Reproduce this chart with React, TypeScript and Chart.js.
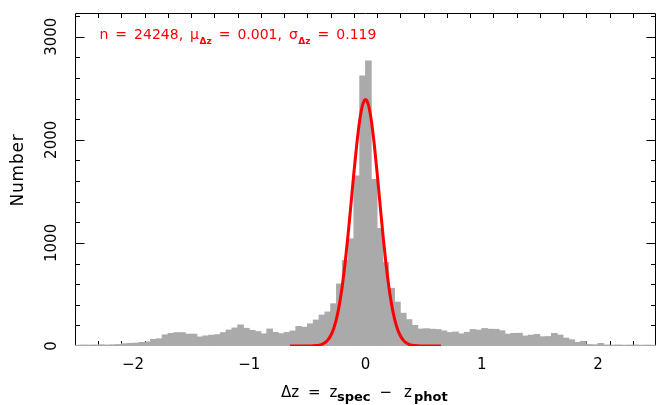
import React, { useEffect, useRef } from 'react';
import { Chart, registerables } from 'chart.js';

Chart.register(...registerables);

// ---------- data ----------
const binStart = -2.5;
const binWidth = 0.05;
// counts per 0.05-wide bin of Δz, from -2.5 to +2.5
const binCounts = [
  8, 10, 9, 10, 12, 10, 12, 14, 22, 25,
  28, 35, 40, 65, 70, 108, 122, 130, 130, 115,
  115, 88, 98, 105, 110, 130, 155, 175, 205, 172,
  152, 140, 118, 165, 132, 120, 132, 146, 190, 182,
  215, 252, 300, 330, 410, 602, 830, 1040, 1650, 2620,
  2765, 1615, 1140, 810, 560, 426, 318, 256, 200, 165,
  168, 163, 160, 147, 131, 136, 118, 133, 160, 154,
  170, 163, 162, 148, 115, 122, 124, 97, 106, 112,
  90, 92, 122, 106, 77, 61, 35, 45, 14, 12,
  25, 10, 9, 10, 8, 9, 10, 8, 9, 8,
];

// fitted gaussian curve (red)
const fitX = [
  -0.65, -0.625, -0.6, -0.575, -0.55, -0.525, -0.5, -0.475, -0.45, -0.425,
  -0.4, -0.375, -0.35, -0.325, -0.3, -0.275, -0.25, -0.225, -0.2, -0.175,
  -0.15, -0.125, -0.1, -0.075, -0.05, -0.025, 0,
  0.025, 0.05, 0.075, 0.1, 0.125, 0.15, 0.175, 0.2, 0.225, 0.25,
  0.275, 0.3, 0.325, 0.35, 0.375, 0.4, 0.425, 0.45, 0.475, 0.5,
  0.525, 0.55, 0.575, 0.6, 0.625, 0.65,
];
const fitY = [
  0, 0, 0, 0, 0, 0.1, 0.3, 0.8, 1.9, 4.1,
  8.4, 16.7, 31.6, 57.4, 99.6, 165.5, 263, 400, 582, 810,
  1080, 1377, 1679, 1959, 2188, 2338, 2390,
  2338, 2188, 1959, 1679, 1377, 1080, 810, 582, 400, 263,
  165.5, 99.6, 57.4, 31.6, 16.7, 8.4, 4.1, 1.9, 0.8, 0.3,
  0.1, 0, 0, 0, 0, 0,
];

const xMin = -2.5;
const xMax = 2.5;
const yMin = 0;
const yMax = 3230;
const xTickValues = [-2, -1, 0, 1, 2];
const yTickValues = [0, 1000, 2000, 3000];
const xMinorStep = 0.2;
const yMinorStep = 200;

const statN = '24248';
const statMu = '0.001';
const statSigma = '0.119';
const yTitle = 'Number';

const FONT = "'DejaVu Sans', sans-serif";

const fmtMinus = (v: number) => (v < 0 ? '\u2212' + Math.abs(v) : String(v));

const framePlugin = {
  id: 'framePlugin',
  beforeDatasetsDraw(chart: any) {
    const { ctx, chartArea: a, scales } = chart;
    const xs = scales.x;
    const ys = scales.y;
    ctx.save();
    ctx.strokeStyle = '#000';
    ctx.lineWidth = 1;
    const L = Math.round(a.left) + 0.5;
    const R = Math.round(a.right) - 0.5;
    const T = Math.round(a.top) + 0.5;
    const B = Math.round(a.bottom) - 0.5;
    ctx.beginPath();
    ctx.rect(L, T, R - L, B - T);
    ctx.stroke();
    ctx.beginPath();
    const nx = Math.round((xMax - xMin) / xMinorStep);
    for (let k = 1; k < nx; k++) {
      const v = xMin + k * xMinorStep;
      const major = xTickValues.some((t) => Math.abs(t - v) < 1e-6);
      const len = major ? 9 : 4.5;
      const px = Math.round(xs.getPixelForValue(v)) + 0.5;
      ctx.moveTo(px, B);
      ctx.lineTo(px, B - len);
      ctx.moveTo(px, T);
      ctx.lineTo(px, T + len);
    }
    const ny = Math.floor((yMax - yMin) / yMinorStep);
    for (let k = 1; k <= ny; k++) {
      const v = yMin + k * yMinorStep;
      const major = yTickValues.some((t) => Math.abs(t - v) < 1e-6);
      const len = major ? 9 : 4.5;
      const py = Math.round(ys.getPixelForValue(v)) + 0.5;
      ctx.moveTo(L, py);
      ctx.lineTo(L + len, py);
      ctx.moveTo(R, py);
      ctx.lineTo(R - len, py);
    }
    ctx.stroke();
    ctx.restore();
  },
  afterDraw(chart: any) {
    const { ctx } = chart;
    ctx.save();
    ctx.textAlign = 'left';
    ctx.textBaseline = 'alphabetic';

    // statistics annotation, laid out left to right with even gaps
    const red = '#ff0000';
    const main = `14px ${FONT}`;
    const sub = `bold 9px ${FONT}`;
    const gap = 7;
    const parts: { t: string; font: string; dy: number; gapAfter: number }[] = [
      { t: 'n', font: main, dy: 0, gapAfter: gap },
      { t: '=', font: main, dy: 0, gapAfter: gap },
      { t: statN + ',', font: main, dy: 0, gapAfter: gap },
      { t: '\u03bc', font: main, dy: 0, gapAfter: 0.5 },
      { t: '\u0394z', font: sub, dy: 5.5, gapAfter: gap },
      { t: '=', font: main, dy: 0, gapAfter: gap },
      { t: statMu + ',', font: main, dy: 0, gapAfter: gap },
      { t: '\u03c3', font: main, dy: 0, gapAfter: 0.5 },
      { t: '\u0394z', font: sub, dy: 5.5, gapAfter: gap },
      { t: '=', font: main, dy: 0, gapAfter: gap },
      { t: statSigma, font: main, dy: 0, gapAfter: 0 },
    ];
    let cx = 99.5;
    ctx.fillStyle = red;
    for (const p of parts) {
      ctx.font = p.font;
      ctx.fillText(p.t, cx, 38.5 + p.dy);
      cx += ctx.measureText(p.t).width + p.gapAfter;
    }

    // x-axis title: Δz = z_spec − z_phot
    const draw = (t: string, x: number, y: number, font: string) => {
      ctx.font = font;
      ctx.fillStyle = '#000';
      ctx.fillText(t, x, y);
    };
    const tm = `15px ${FONT}`;
    const ts = `bold 13px ${FONT}`;
    draw('\u0394z', 281, 396.5, tm);
    draw('=', 308, 396.5, tm);
    draw('z', 329.5, 396.5, tm);
    draw('spec', 337, 400.5, ts);
    draw('\u2212', 379.5, 396.5, tm);
    draw('z', 404, 396.5, tm);
    draw('phot', 414, 400.5, ts);

    // y-axis title
    ctx.translate(19, 170);
    ctx.rotate(-Math.PI / 2);
    ctx.font = `17px ${FONT}`;
    (ctx as any).letterSpacing = '0.8px';
    ctx.textAlign = 'center';
    ctx.textBaseline = 'middle';
    ctx.fillStyle = '#000';
    ctx.fillText(yTitle, 0, 0);
    ctx.restore();
  },
};

export default function App() {
  const ref = useRef<HTMLCanvasElement | null>(null);
  useEffect(() => {
    if (!ref.current) return;
    const barData = binCounts.map((c, i) => ({ x: binStart + binWidth * (i + 0.5), y: c }));
    const fitData = fitX.map((x, i) => ({ x, y: fitY[i] }));
    const chart = new Chart(ref.current, {
      type: 'bar',
      data: {
        datasets: [
          {
            type: 'line',
            data: fitData,
            borderColor: '#ff0000',
            borderWidth: 3,
            pointRadius: 0,
            fill: false,
            cubicInterpolationMode: 'monotone',
            order: 0,
          } as any,
          {
            type: 'bar',
            data: barData,
            backgroundColor: '#aaaaaa',
            borderWidth: 0,
            barPercentage: 1,
            categoryPercentage: 1,
            inflateAmount: 0.4,
            order: 1,
          } as any,
        ],
      },
      options: {
        animation: false,
        responsive: true,
        maintainAspectRatio: false,
        layout: { padding: { top: 10, right: 3, left: 0, bottom: 0 } },
        plugins: { legend: { display: false }, tooltip: { enabled: false }, title: { display: false } },
        scales: {
          x: {
            type: 'linear',
            min: xMin,
            max: xMax,
            offset: false,
            grid: { display: false, drawTicks: false },
            border: { display: false },
            afterBuildTicks: (s: any) => {
              s.ticks = xTickValues.map((v) => ({ value: v }));
            },
            afterFit: (s: any) => {
              s.height = 59;
            },
            ticks: {
              color: '#000',
              font: { family: FONT, size: 15 },
              padding: 10,
              maxRotation: 0,
              autoSkip: false,
              callback: (v: any) => fmtMinus(Number(v)),
            },
          },
          y: {
            type: 'linear',
            min: yMin,
            max: yMax,
            grid: { display: false, drawTicks: false },
            border: { display: false },
            afterBuildTicks: (s: any) => {
              s.ticks = yTickValues.map((v) => ({ value: v }));
            },
            afterFit: (s: any) => {
              s.width = 75;
            },
            ticks: {
              color: '#000',
              font: { family: FONT, size: 15 },
              padding: 4,
              minRotation: 90,
              maxRotation: 90,
              crossAlign: 'center',
              autoSkip: false,
              callback: (v: any) => String(v),
            },
          },
        },
      } as any,
      plugins: [framePlugin],
    });
    return () => chart.destroy();
  }, []);
  return (
    <div style={{ position: 'fixed', left: 0, top: 0, width: 659, height: 405, background: '#fff' }}>
      <canvas ref={ref} />
    </div>
  );
}
